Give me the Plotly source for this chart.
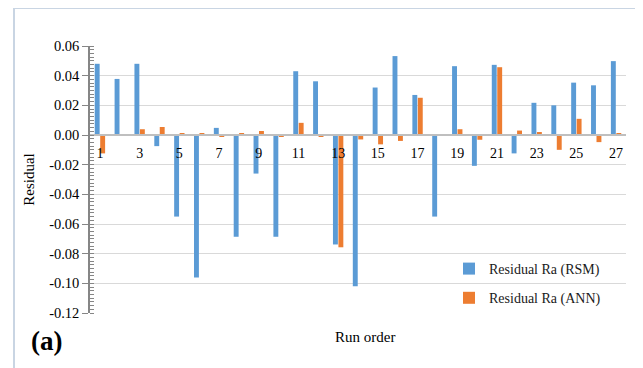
import plotly.graph_objects as go

run_order = list(range(1, 28))
rsm = [0.048, 0.0378, 0.048, -0.0075, -0.055, -0.096, 0.0048, -0.0686, -0.026, -0.0686,
       0.043, 0.0362, -0.0738, -0.102, 0.032, 0.0532, 0.027, -0.055, 0.0464, -0.0208,
       0.0473, -0.0124, 0.0217, 0.020, 0.0353, 0.0335, 0.0498]
ann = [-0.0124, 0.0003, 0.0039, 0.0054, 0.0012, 0.0012, -0.001, 0.0008, 0.0027, -0.001,
       0.0082, -0.001, -0.0757, -0.003, -0.0063, -0.004, 0.0251, 0.0002, 0.0039, -0.0032,
       0.0457, 0.003, 0.002, -0.010, 0.0109, -0.0048, 0.001]
x_ticks = list(range(1, 28, 2))
y_ticks = [0.06, 0.04, 0.02, 0.00, -0.02, -0.04, -0.06, -0.08, -0.10, -0.12]
names = ["Residual Ra (RSM)", "Residual Ra (ANN)"]
colors = ["#5b9bd5", "#ed7d31"]

FONT = "Liberation Serif"

fig = go.Figure()
for vals, name, col in zip([rsm, ann], names, colors):
    fig.add_trace(go.Bar(x=run_order, y=vals, name=name, marker_color=col,
                         marker_line_width=0, showlegend=False))
for name, col in zip(names, colors):
    fig.add_trace(go.Scatter(x=[None], y=[None], mode="markers", name=name,
                             legendgroup=name,
                             marker=dict(symbol="square", size=8, color=col)))

# page body has an 8px default margin, so the plot area is placed to land on
# screen x 90..626, y 46..313
fig.update_layout(
    width=643, height=368,
    margin=dict(l=82, r=25, t=38, b=63),
    paper_bgcolor="white", plot_bgcolor="white",
    barmode="group", bargap=0.45, bargroupgap=0.1,
    font=dict(family=FONT, color="#000000", size=13),
    showlegend=True,
    legend=dict(x=(449 - 90) / 536, y=(313 - 253) / 267, xanchor="left", yanchor="top",
                bgcolor="rgba(0,0,0,0)", font=dict(family=FONT, size=14, color="#1a1a1a"),
                tracegroupgap=8, itemsizing="constant"),
    xaxis=dict(range=[0.5, 27.5], tickvals=x_ticks, ticktext=[str(v) for v in x_ticks],
               anchor="free", position=0.12 / 0.18, automargin=False,
               showline=True, linecolor="#bfbfbf", linewidth=1.5,
               showgrid=False, zeroline=False,
               ticks="outside", ticklen=5, tickcolor="rgba(0,0,0,0)",
               tickfont=dict(family=FONT, size=14, color="#000000")),
    yaxis=dict(range=[-0.12, 0.06], tickvals=y_ticks, automargin=False,
               ticktext=[f"{v:.2f}" for v in y_ticks],
               showgrid=True, gridcolor="#d9d9d9", gridwidth=1.3,
               zeroline=False, showline=True, linecolor="#868686", linewidth=1.5,
               ticks="outside", ticklen=6, tickcolor="#868686", tickwidth=1.3,
               minor=dict(dtick=0.0025, ticks="inside", ticklen=4, tickcolor="#868686",
                          tickwidth=1, showgrid=False),
               tickfont=dict(family=FONT, size=14.5, color="#000000"),
               title=dict(text="Residual", font=dict(family=FONT, size=15, color="#000000"),
                          standoff=11)),
    shapes=[dict(type="rect", xref="paper", yref="paper",
                 x0=(14 - 90) / 536, x1=1.2, y0=-0.5, y1=(313 - 8) / 267,
                 line=dict(color="#c9d5e3", width=2), fillcolor="rgba(0,0,0,0)", layer="below")],
    annotations=[
        dict(text="Run order", xref="paper", yref="paper", x=(365 - 90) / 536,
             y=(313 - 337) / 267, xanchor="center", yanchor="middle", showarrow=False,
             font=dict(family=FONT, size=15, color="#000000")),
        dict(text="<b>(a)</b>", xref="paper", yref="paper", x=(46 - 90) / 536,
             y=(313 - 341) / 267, xanchor="center", yanchor="middle", showarrow=False,
             font=dict(family=FONT, size=27, color="#000000")),
    ],
)

fig.write_html("out.html")
